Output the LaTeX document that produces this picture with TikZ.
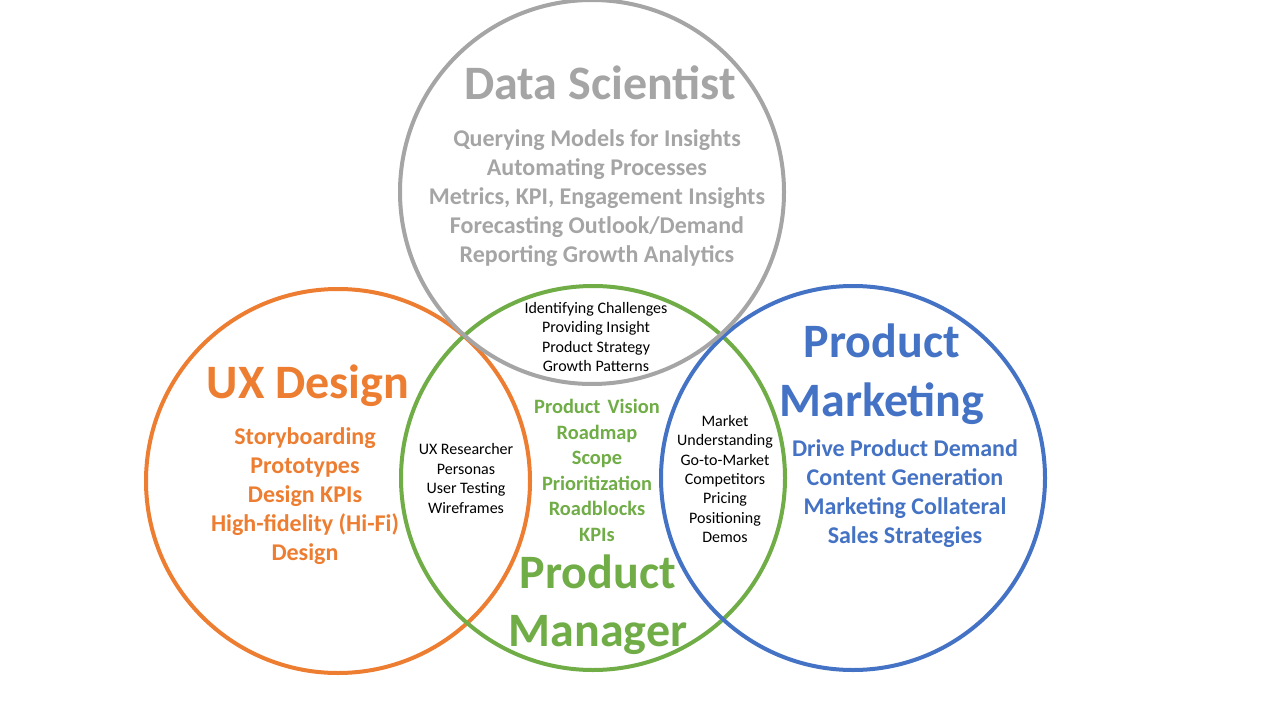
\documentclass[tikz,border=0pt]{standalone}
\usepackage{fontspec}
\setmainfont{Carlito}
\definecolor{dsgray}{HTML}{A5A5A5}
\definecolor{uxorange}{HTML}{ED7D31}
\definecolor{pmgreen}{HTML}{70AD47}
\definecolor{mkblue}{HTML}{4472C4}
\newcommand{\widewords}{\spaceskip=0.35em\relax}
\begin{document}
\begin{tikzpicture}[x=0.75pt,y=-0.75pt,
  ring/.style={circle,draw=#1,line width=3pt,minimum size=288pt,inner sep=0pt},
  title/.style={font=\fontsize{36}{44}\selectfont\bfseries,align=center,inner sep=0pt},
  items/.style={font=\fontsize{18}{21.75}\selectfont\bfseries,align=center,inner sep=0pt},
  greenitems/.style={font=\fontsize{15.3}{19.1}\selectfont\bfseries,align=center,inner sep=0pt,text=pmgreen},
  small/.style={font=\fontsize{12}{14.6}\selectfont,align=center,inner sep=0pt,text=black}]
\fill[white] (0,0) rectangle (1280,720);
\useasboundingbox (0,0) rectangle (1280,720);
% the four role circles
\node[ring=uxorange] (ux) at (338,481) {};
\node[ring=pmgreen] (pm) at (593,478) {};
\node[ring=mkblue] (mk) at (853,478) {};
\node[ring=dsgray] (ds) at (592,192) {};
% Data Scientist
\node[title,text=dsgray] (dst) at (600,83) {Data Scientist};
\node[items,text=dsgray] (dsl) at (597,198) {Querying Models for Insights\\Automating Processes\\Metrics, KPI, Engagement Insights\\Forecasting Outlook/Demand\\Reporting Growth Analytics};
% shared by Data Scientist and Product Manager
\node[small] (dspm) at (596,337) {Identifying Challenges\\Providing Insight\\Product Strategy\\Growth Patterns};
% Product Manager
\node[greenitems] (pml) at (597,470.5) {\widewords Product Vision\\Roadmap\\Scope\\Prioritization\\Roadblocks\\KPIs};
\node[title,text=pmgreen,font=\fontsize{36}{43.5}\selectfont\bfseries] (pmt) at (598,605) {Product\\Manager};
% UX Design
\node[title,text=uxorange] (uxt) at (308,386) {UX Design};
\node[items,text=uxorange] (uxl) at (305,496.5) {Storyboarding\\Prototypes\\Design KPIs\\High-fidelity (Hi-Fi)\\Design};
\node[small] (uxpm) at (466,478.5) {UX Researcher\\Personas\\User Testing\\Wireframes};
% Product Marketing
\node[small] (pmmk) at (725,479) {Market\\Understanding\\Go-to-Market\\Competitors\\Pricing\\Positioning\\Demos};
\node[title,text=mkblue] (mkt) at (882,374.5) {Product\\Marketing};
\node[items,text=mkblue] (mkl) at (905,493.5) {Drive Product Demand\\Content Generation\\Marketing Collateral\\Sales Strategies};
\end{tikzpicture}
\end{document}
